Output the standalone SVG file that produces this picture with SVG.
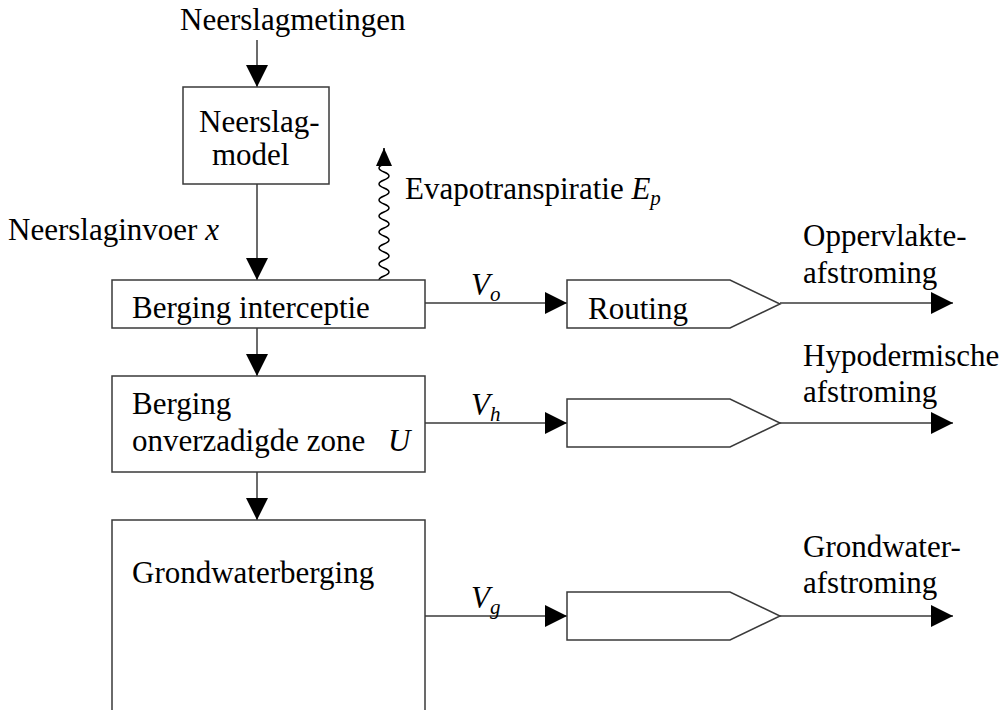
<svg xmlns="http://www.w3.org/2000/svg" width="1005" height="710" viewBox="0 0 1005 710">
<style>
.box{fill:#fff;stroke:#3a3a3a;stroke-width:1.5}
.ln{fill:none;stroke:#3a3a3a;stroke-width:1.5}
</style>
<defs>
<marker id="ah" markerUnits="userSpaceOnUse" markerWidth="22" markerHeight="22" viewBox="0 0 20 20" refX="20" refY="10" orient="auto">
<path d="M0,0 L20,10 L0,20 Z" fill="#000"/>
</marker>
<marker id="ahs" markerUnits="userSpaceOnUse" markerWidth="18" markerHeight="16" viewBox="0 0 18 16" refX="18" refY="8" orient="auto">
<path d="M0,0 L18,8 L0,16 Z" fill="#000"/>
</marker>
</defs>
<g id="connectors">
<line class="ln" x1="257" y1="40" x2="257" y2="87" marker-end="url(#ah)"/>
<line class="ln" x1="257" y1="184" x2="257" y2="280" marker-end="url(#ah)"/>
<line class="ln" x1="257" y1="328" x2="257" y2="376" marker-end="url(#ah)"/>
<line class="ln" x1="257" y1="472" x2="257" y2="520" marker-end="url(#ah)"/>
<line class="ln" x1="425" y1="303" x2="567" y2="303" marker-end="url(#ah)"/>
<line class="ln" x1="425" y1="423" x2="567" y2="423" marker-end="url(#ah)"/>
<line class="ln" x1="425" y1="616" x2="567" y2="616" marker-end="url(#ah)"/>
<line class="ln" x1="780" y1="303" x2="953" y2="303" marker-end="url(#ah)"/>
<line class="ln" x1="780" y1="423" x2="953" y2="423" marker-end="url(#ah)"/>
<line class="ln" x1="780" y1="616" x2="953" y2="616" marker-end="url(#ah)"/>
<path class="ln" d="M388,290 Q389,286 384,284 q-10,-4 0,-8 t0,-8 t0,-8 t0,-8 t0,-8 t0,-8 t0,-8 t0,-8 t0,-8 t0,-8 t0,-8 t0,-8 t0,-8 t0,-8 t0,-8 L384,148" marker-end="url(#ahs)" style="stroke:#000"/>
</g>
<g font-family="Times New Roman, Liberation Serif, serif" font-size="31" fill="#000">
<g id="labels">
<text x="180" y="30">Neerslagmetingen</text>
<text x="8" y="240">Neerslaginvoer <tspan font-style="italic">x</tspan></text>
<text x="405" y="199">Evapotranspiratie <tspan font-style="italic">E</tspan><tspan font-style="italic" font-size="21" dy="6">p</tspan></text>
<text font-style="italic" x="471" y="295">V<tspan font-size="21" dy="6">o</tspan></text>
<text font-style="italic" x="471" y="415">V<tspan font-size="21" dy="6">h</tspan></text>
<text font-style="italic" x="471" y="608">V<tspan font-size="21" dy="6">g</tspan></text>
<text x="803" y="246">Oppervlakte-</text>
<text x="803" y="283">afstroming</text>
<text x="803" y="366">Hypodermische</text>
<text x="803" y="402">afstroming</text>
<text x="803" y="557">Grondwater-</text>
<text x="803" y="593">afstroming</text>
</g>
<g id="neerslagmodel">
<rect class="box" x="183" y="87" width="146" height="97"/>
<text x="199" y="132">Neerslag-</text>
<text x="212" y="165">model</text>
</g>
<g id="interceptie">
<rect class="box" x="112" y="280" width="313" height="48"/>
<text x="132" y="318">Berging interceptie</text>
</g>
<g id="onverzadigd">
<rect class="box" x="112" y="376" width="313" height="96"/>
<text x="132" y="414">Berging</text>
<text x="132" y="451">onverzadigde zone <tspan font-style="italic" x="388">U</tspan></text>
</g>
<g id="grondwater">
<rect class="box" x="112" y="520" width="313" height="200"/>
<text x="132" y="583">Grondwaterberging</text>
</g>
<g id="routing-o">
<path class="box" d="M567,280 H730 L780,304 L730,328 H567 Z"/>
<text x="588" y="319">Routing</text>
</g>
<g id="routing-h">
<path class="box" d="M567,399 H730 L780,423 L730,447 H567 Z"/>
</g>
<g id="routing-g">
<path class="box" d="M567,592 H730 L780,616 L730,640 H567 Z"/>
</g>
</g>
</svg>
